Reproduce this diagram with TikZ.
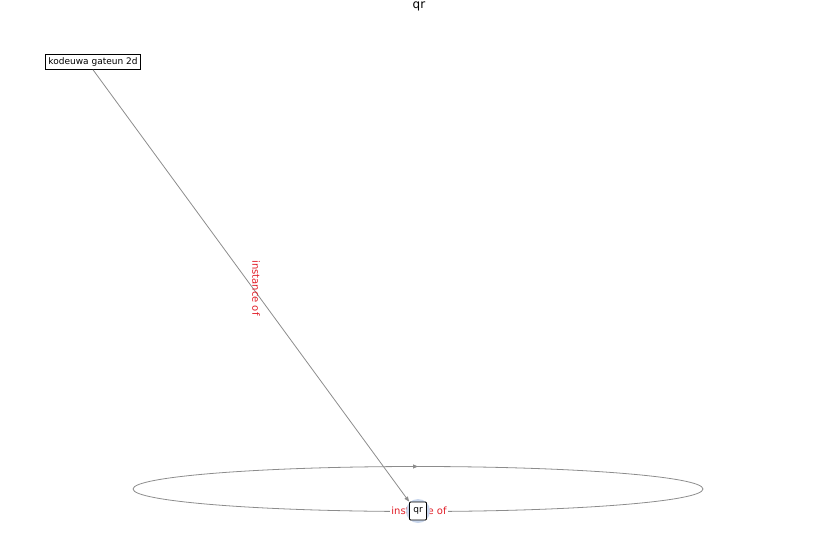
\documentclass[tikz,border=0pt]{standalone}
\usepackage{fontspec}
\setmainfont{DejaVu Sans}
\usetikzlibrary{arrows.meta}
\definecolor{halo}{RGB}{200,214,236}
\definecolor{edgegray}{RGB}{140,140,140}
\definecolor{lblred}{RGB}{225,30,40}
\begin{document}
\begin{tikzpicture}[x=1pt,y=-1pt,
  box/.style={draw=black,fill=white,font=\fontsize{9}{10}\selectfont,inner sep=3pt,line width=0.8pt},
  edge/.style={draw=edgegray,line width=0.8pt},
  elabel/.style={text=lblred,font=\fontsize{10}{11}\selectfont,inner sep=1pt}]
\useasboundingbox (0,0) rectangle (837,559);
\node[font=\fontsize{12}{13}\selectfont] (title) at (419,6) {qr};
% self loop
\coordinate (loopc) at (418,489);
\draw[edge] (loopc) ellipse [x radius=285, y radius=22.5];
\coordinate (lt1) at (405,466.5);
\coordinate (lt2) at (418,466.5);
\draw[edge,-{Triangle[length=5pt,width=4pt]}] (lt1) -- (lt2);
\node[elabel,fill=white] (l2) at (419,511) {instance of};
\fill[halo] (418,511) circle (12);
\node[box] (kg) at (93,62) {kodeuwa gateun 2d};
\node[box,inner sep=0pt,minimum width=17pt,minimum height=18pt,rounded corners=1pt] (qr) at (418,511) {qr};
\draw[edge,-{Triangle[length=5pt,width=4pt]}] (kg.south) -- (qr.north west);
\node[elabel,rotate=-90] (l1) at (256,288) {instance of};
\end{tikzpicture}
\end{document}
